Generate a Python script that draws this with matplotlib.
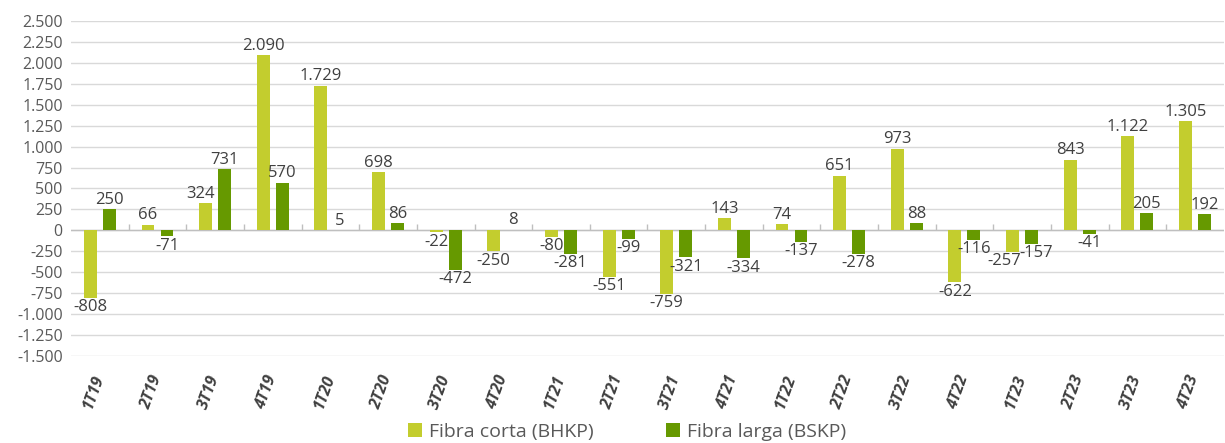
import matplotlib
matplotlib.use('Agg')
import matplotlib.pyplot as plt
import numpy as np

plt.rcParams['font.family'] = ['Open Sans', 'DejaVu Sans']

# Data (variacion trimestral)
quarters = ['1T19', '2T19', '3T19', '4T19', '1T20', '2T20', '3T20', '4T20',
            '1T21', '2T21', '3T21', '4T21', '1T22', '2T22', '3T22', '4T22',
            '1T23', '2T23', '3T23', '4T23']
fibra_corta = [-808, 66, 324, 2090, 1729, 698, -22, -250, -80, -551,
               -759, 143, 74, 651, 973, -622, -257, 843, 1122, 1305]
fibra_larga = [250, -71, 731, 570, 5, 86, -472, 8, -281, -99,
               -321, -334, -137, -278, 88, -116, -157, -41, 205, 192]
y_ticks = list(range(-1500, 2501, 250))

COLORS = {
    'corta': '#C3CD2E',
    'larga': '#669900',
    'text': '#595959',
    'label': '#404040',
    'xlabel': '#404040',
    'grid': '#D9D9D9',
}


def fmt(v):
    # thousands separator with a dot
    return f'{v:,}'.replace(',', '.')


fig = plt.figure(figsize=(12.25, 4.43), dpi=100)
ax = fig.add_axes([0.058, 0.1964, 0.941, 0.7562])

x = np.arange(len(quarters))
w = 0.225
off = 0.165
b1 = ax.bar(x - off, fibra_corta, w, color=COLORS['corta'], label='Fibra corta (BHKP)', zorder=3)
b2 = ax.bar(x + off, fibra_larga, w, color=COLORS['larga'], label='Fibra larga (BSKP)', zorder=3)

# data labels (small nudges where Excel shifted them)
nudge = {(0, 16): (-6, 0), (1, 16): (3, 0), (0, 2): (-4, 0)}
for si, (bars, vals) in enumerate([(b1, fibra_corta), (b2, fibra_larga)]):
    for i, (bar, v) in enumerate(zip(bars, vals)):
        cx = bar.get_x() + bar.get_width() / 2
        dx, dy = nudge.get((si, i), (0, 0))
        if v >= 0:
            ax.annotate(fmt(v), (cx, v), xytext=(dx, 1 + dy), textcoords='offset points',
                        ha='center', va='bottom', fontsize=12, color=COLORS['label'])
        else:
            ax.annotate(fmt(v), (cx, v), xytext=(dx, -1 + dy), textcoords='offset points',
                        ha='center', va='top', fontsize=12, color=COLORS['label'])

ax.set_xlim(-0.5, len(quarters) - 0.5)
ax.set_ylim(-1500, 2500)
ax.set_yticks(y_ticks)
ax.set_yticklabels([fmt(v) for v in y_ticks], fontsize=11.5, color=COLORS['text'])
ax.yaxis.grid(True, color=COLORS['grid'], linewidth=1, zorder=0)
ax.set_axisbelow(True)

# zero axis line with category separators
ax.axhline(0, color='#BFBFBF', linewidth=1, zorder=2)
ax.vlines(np.arange(0.5, len(quarters) - 1, 1), 0, 75, color='#BFBFBF', linewidth=1, zorder=2)

ax.set_xticks(x)
ax.set_xticklabels(quarters, rotation=70, ha='right', va='center', rotation_mode='anchor',
                   fontsize=11.5, fontweight='bold', fontstyle='italic', color=COLORS['xlabel'])
ax.tick_params(axis='x', length=0, pad=14)
ax.tick_params(axis='y', length=0, pad=6)

for s in ax.spines.values():
    s.set_visible(False)

fig.legend(handles=[b1, b2], loc='center', bbox_to_anchor=(0.512, 0.025), ncol=2,
           frameon=False, fontsize=14, handlelength=0.7, handleheight=0.7,
           columnspacing=3.7, handletextpad=0.4, labelcolor=COLORS['text'])

fig.savefig('out.png', dpi=100, facecolor='white')
